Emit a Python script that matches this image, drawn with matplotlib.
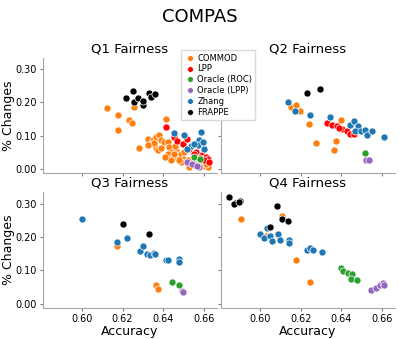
import numpy as np
import matplotlib
matplotlib.use('Agg')
import matplotlib.pyplot as plt
from matplotlib.lines import Line2D

methods = ['COMMOD', 'LPP', 'Oracle (ROC)', 'Oracle (LPP)', 'Zhang', 'FRAPPE']
colors = ['#ff7f0e', '#ff0000', '#2ca02c', '#9467bd', '#1f77b4', '#000000']
panels = ['Q1 Fairness', 'Q2 Fairness', 'Q3 Fairness', 'Q4 Fairness']

# ---- Q1 ----
q1_commod_acc = [0.6124, 0.6179, 0.6176, 0.6234, 0.6245, 0.6255, 0.6280, 0.6414,
                 0.6325, 0.6349, 0.6365, 0.6381, 0.6390, 0.6406, 0.6423, 0.6340,
                 0.6365, 0.6373, 0.6428, 0.6442, 0.6464, 0.6423, 0.6447, 0.6472,
                 0.6488, 0.6504, 0.6488, 0.6521, 0.6546, 0.6562, 0.6578, 0.6439,
                 0.6480, 0.6455, 0.6504, 0.6390, 0.6357, 0.6324, 0.6600, 0.6620,
                 0.6610, 0.6530, 0.6410, 0.6460]
q1_commod_chg = [0.184, 0.161, 0.118, 0.146, 0.139, 0.185, 0.062, 0.150,
                 0.091, 0.088, 0.096, 0.103, 0.088, 0.081, 0.081, 0.076,
                 0.061, 0.055, 0.066, 0.050, 0.055, 0.045, 0.035, 0.040,
                 0.045, 0.030, 0.020, 0.025, 0.010, 0.015, 0.010, 0.025,
                 0.025, 0.045, 0.050, 0.061, 0.078, 0.073, 0.008, 0.005,
                 0.015, 0.005, 0.035, 0.070]
q1_lpp_acc = [0.6414, 0.6455, 0.6470, 0.6500, 0.6530, 0.6560, 0.6590, 0.6610,
              0.6620, 0.6550, 0.6580, 0.6600, 0.6624, 0.6520]
q1_lpp_chg = [0.126, 0.096, 0.085, 0.075, 0.060, 0.050, 0.040, 0.035,
              0.030, 0.045, 0.032, 0.025, 0.020, 0.090]
q1_roc_acc = [0.6550, 0.6580]
q1_roc_chg = [0.036, 0.028]
q1_olpp_acc = [0.6520, 0.6555, 0.6578, 0.6540, 0.6565]
q1_olpp_chg = [0.020, 0.012, 0.004, 0.015, 0.008]
q1_zhang_acc = [0.6455, 0.6504, 0.6546, 0.6578, 0.6587, 0.6570, 0.6603, 0.6537,
                0.6553, 0.6603, 0.6595, 0.6520]
q1_zhang_chg = [0.108, 0.101, 0.074, 0.088, 0.110, 0.071, 0.058, 0.068,
                0.075, 0.060, 0.082, 0.060]
q1_frappe_acc = [0.6215, 0.6250, 0.6254, 0.6275, 0.6302, 0.6328, 0.6340, 0.6361, 0.6299]
q1_frappe_chg = [0.212, 0.234, 0.202, 0.212, 0.192, 0.227, 0.215, 0.224, 0.205]

# ---- Q2 ----
q2_commod_acc = [0.6150, 0.6179, 0.6195, 0.6239, 0.6401, 0.6275, 0.6374, 0.6364]
q2_commod_chg = [0.187, 0.193, 0.175, 0.135, 0.146, 0.078, 0.084, 0.055]
q2_lpp_acc = [0.6328, 0.6353, 0.6377, 0.6405, 0.6426, 0.6442, 0.6463, 0.6390]
q2_lpp_chg = [0.138, 0.132, 0.128, 0.119, 0.115, 0.106, 0.104, 0.122]
q2_roc_acc = [0.6516]
q2_roc_chg = [0.048]
q2_olpp_acc = [0.6521, 0.6535]
q2_olpp_chg = [0.027, 0.025]
q2_zhang_acc = [0.6137, 0.6174, 0.6247, 0.6345, 0.6442, 0.6463, 0.6480, 0.6470,
                0.6496, 0.6516, 0.6528, 0.6551, 0.6613]
q2_zhang_chg = [0.201, 0.173, 0.162, 0.155, 0.133, 0.143, 0.130, 0.113,
                0.114, 0.118, 0.101, 0.113, 0.096]
q2_frappe_acc = [0.6231, 0.6296]
q2_frappe_chg = [0.227, 0.239]

# ---- Q3 ----
q3_commod_acc = [0.6174, 0.6366, 0.6377]
q3_commod_chg = [0.172, 0.057, 0.044]
q3_lpp_acc = []
q3_lpp_chg = []
q3_roc_acc = [0.6445, 0.6478]
q3_roc_chg = [0.064, 0.056]
q3_olpp_acc = [0.6491, 0.6499]
q3_olpp_chg = [0.037, 0.034]
q3_zhang_acc = [0.6000, 0.6174, 0.6220, 0.6288, 0.6299, 0.6321, 0.6337, 0.6353,
                0.6361, 0.6415, 0.6426, 0.6478, 0.6478]
q3_zhang_chg = [0.256, 0.184, 0.199, 0.159, 0.172, 0.149, 0.147, 0.152,
                0.149, 0.132, 0.132, 0.134, 0.125]
q3_frappe_acc = [0.6203, 0.6332]
q3_frappe_chg = [0.240, 0.209]

# ---- Q4 ----
q4_commod_acc = [0.5907, 0.6109, 0.6177, 0.6247, 0.6030]
q4_commod_chg = [0.254, 0.264, 0.132, 0.065, 0.205]
q4_lpp_acc = []
q4_lpp_chg = []
q4_roc_acc = [0.6397, 0.6410, 0.6434, 0.6455, 0.6447, 0.6478]
q4_roc_chg = [0.106, 0.097, 0.092, 0.088, 0.075, 0.072]
q4_olpp_acc = [0.6548, 0.6572, 0.6593, 0.6604, 0.6612]
q4_olpp_chg = [0.042, 0.047, 0.056, 0.062, 0.057]
q4_zhang_acc = [0.6000, 0.6020, 0.6036, 0.6049, 0.6057, 0.6088, 0.6098, 0.6141,
                0.6141, 0.6231, 0.6247, 0.6259, 0.6304]
q4_zhang_chg = [0.209, 0.197, 0.227, 0.204, 0.189, 0.211, 0.190, 0.192,
                0.182, 0.162, 0.167, 0.162, 0.156]
q4_frappe_acc = [0.5844, 0.5878, 0.5898, 0.5873, 0.5894, 0.6081, 0.6047, 0.6109, 0.6135]
q4_frappe_chg = [0.321, 0.303, 0.309, 0.299, 0.307, 0.294, 0.232, 0.255, 0.250]

data = [
    [(q1_commod_acc, q1_commod_chg), (q1_lpp_acc, q1_lpp_chg), (q1_roc_acc, q1_roc_chg),
     (q1_olpp_acc, q1_olpp_chg), (q1_zhang_acc, q1_zhang_chg), (q1_frappe_acc, q1_frappe_chg)],
    [(q2_commod_acc, q2_commod_chg), (q2_lpp_acc, q2_lpp_chg), (q2_roc_acc, q2_roc_chg),
     (q2_olpp_acc, q2_olpp_chg), (q2_zhang_acc, q2_zhang_chg), (q2_frappe_acc, q2_frappe_chg)],
    [(q3_commod_acc, q3_commod_chg), (q3_lpp_acc, q3_lpp_chg), (q3_roc_acc, q3_roc_chg),
     (q3_olpp_acc, q3_olpp_chg), (q3_zhang_acc, q3_zhang_chg), (q3_frappe_acc, q3_frappe_chg)],
    [(q4_commod_acc, q4_commod_chg), (q4_lpp_acc, q4_lpp_chg), (q4_roc_acc, q4_roc_chg),
     (q4_olpp_acc, q4_olpp_chg), (q4_zhang_acc, q4_zhang_chg), (q4_frappe_acc, q4_frappe_chg)],
]

x_ticks = [0.60, 0.62, 0.64, 0.66]
y_ticks = [0.00, 0.10, 0.20, 0.30]

fig, axs = plt.subplots(2, 2, figsize=(3.99, 3.39), dpi=100, sharex=True, sharey=True)
fig.subplots_adjust(left=0.107, right=0.99, top=0.830, bottom=0.092, wspace=0.023, hspace=0.168)

for ax, title, series in zip(axs.flat, panels, data):
    for (xs, ys), col in zip(series, colors):
        if len(xs):
            ax.scatter(xs, ys, s=26, color=col, edgecolor='white', linewidth=0.5, zorder=3)
    ax.set_title(title, fontsize=9.5, pad=4)
    for side in ('top', 'right'):
        ax.spines[side].set_visible(False)
    for side in ('left', 'bottom'):
        ax.spines[side].set_color('0.65')
    ax.tick_params(labelsize=7, length=2.5, width=0.8, color='0.5', pad=2)

axs[0, 0].set_xlim(0.5806, 0.6665)
axs[0, 0].set_ylim(-0.013, 0.335)
axs[0, 0].set_xticks(x_ticks)
axs[0, 0].set_yticks(y_ticks)
axs[0, 0].set_xticklabels([f'{v:.2f}' for v in x_ticks])
axs[0, 0].set_yticklabels([f'{v:.2f}' for v in y_ticks])
for ax in axs[1]:
    ax.set_xlabel('Accuracy', fontsize=9, labelpad=1)
for ax in axs[:, 0]:
    ax.set_ylabel('% Changes', fontsize=9, labelpad=0)

handles = [Line2D([], [], ls='none', marker='o', markersize=4, color=c, markeredgecolor='white',
                  markeredgewidth=0.3) for c in colors]
fig.legend(handles, methods, loc='upper left', bbox_to_anchor=(0.444, 0.864), fontsize=6,
           labelspacing=0.22, handletextpad=0.3, borderpad=0.4, handlelength=1.2,
           frameon=True, framealpha=1, edgecolor='0.85', fancybox=False)

fig.suptitle('COMPAS', fontsize=13, y=0.975)
fig.savefig('out.png', dpi=100)
